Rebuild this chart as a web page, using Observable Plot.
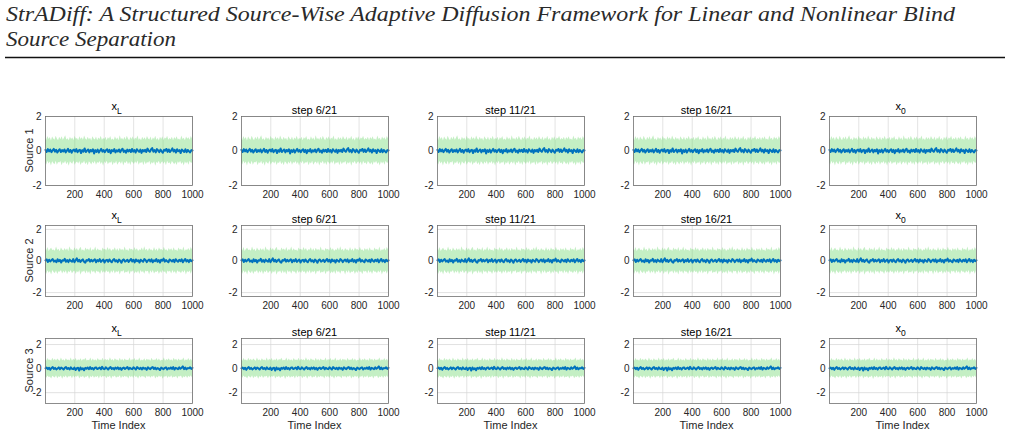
<!DOCTYPE html>
<html><head><meta charset="utf-8">
<script src="https://cdn.jsdelivr.net/npm/d3@7"></script>
<script src="https://cdn.jsdelivr.net/npm/@observablehq/plot@0.6"></script>
<style>
body{margin:0;background:#fff}
#root{position:relative;width:1010px;height:436px;overflow:hidden;background:#fff}
</style></head>
<body><div id="root"></div>
<script>
const headerLines = ["StrADiff: A Structured Source-Wise Adaptive Diffusion Framework for Linear and Nonlinear Blind", "Source Separation"];
const colTitleMain = ["x", "step 6/21", "step 11/21", "step 16/21", "x"];
const colTitleSub = ["L", "", "", "", "0"];
const rowLabels = ["Source 1", "Source 2", "Source 3"];
const xLabel = "Time Index";
const xTicks = [200, 400, 600, 800, 1000];
const yTicks = [-2, 0, 2];

// estimated mean trace per source (sampled along 1..1000)
const line1 = [0.06,-0.05,0.11,-0.02,0.08,-0.07,0.04,0.12,-0.04,0.07,-0.09,0.03,0.1,-0.06,0.05,-0.03,0.09,-0.08,0.02,0.13,-0.05,0.06,-0.1,0.04,0.08,-0.03,0.11,-0.07,0.03,0.07,-0.12,0.05,-0.04,0.15,-0.06,0.02,0.09,-0.08,0.06,-0.02,0.1,-0.14,0.05,-0.05,0.08,-0.09,0.03,0.12,-0.04,0.06,-0.07,0.04,0.1,-0.06,0.07,-0.13,0.05,-0.02,0.11,-0.08,0.04,-0.03,0.09,-0.07,0.06,0.13,-0.05,0.03,-0.1,0.08,-0.02,0.07,-0.06,0.12,-0.04,0.05,-0.09,0.1,0.02,-0.05,0.08,-0.11,0.06,-0.03,0.07,-0.06,0.14,0.01,-0.05,0.09,0.17,-0.04,0.06,-0.08,0.11,0.03,-0.07,0.08,-0.02,-0.1,0.07,0.02,0.12,-0.05,0.09,-0.06,0.04,0.15,-0.03,0.07,-0.09,0.1,-0.01,0.05,-0.12,0.08,0.02,-0.06,0.1,-0.07,0.06,-0.02,-0.08,0.05,0.03];
const line2 = [0.04,0.1,-0.06,0.08,-0.03,0.06,0.12,-0.04,0.03,-0.08,0.11,-0.02,0.07,-0.1,0.05,0.02,0.14,-0.05,0.06,-0.07,0.09,0.01,-0.04,0.12,-0.08,0.05,0.17,-0.03,0.08,-0.06,0.04,0.1,-0.05,-0.11,0.06,0.02,0.13,-0.04,0.07,-0.03,0.05,0.11,-0.08,0.06,-0.02,0.12,-0.06,0.03,0.09,-0.1,0.04,0.07,-0.05,0.1,-0.01,-0.08,0.06,0.12,-0.03,0.05,-0.07,0.09,0.02,-0.11,0.06,0.1,-0.04,0.01,0.08,-0.06,0.04,0.13,-0.03,0.07,-0.09,0.1,-0.01,0.05,-0.1,0.08,0.02,-0.05,0.12,0.06,-0.07,0.03,0.09,-0.03,0.1,-0.08,0.05,-0.01,0.12,-0.05,0.06,-0.1,0.08,0.02,0.15,-0.04,0.06,-0.02,-0.08,0.1,0.04,-0.03,0.08,-0.07,0.11,0.02,-0.05,0.07,-0.01,0.1,-0.08,0.04,0.13,-0.03,0.06,-0.07,0.08,-0.01,0.04];
const line3 = [0.02,0.08,-0.05,0.07,-0.1,0.05,0.12,-0.03,0.06,-0.07,0.01,0.1,-0.05,0.08,0.02,-0.08,0.06,0.13,-0.03,0.05,-0.07,0.1,-0.01,-0.05,0.08,-0.12,0.04,0.07,-0.16,0.09,-0.06,0.03,-0.14,0.06,-0.01,0.09,-0.05,0.12,-0.03,0.05,-0.08,0.07,0.1,-0.04,0.02,0.09,-0.06,0.15,-0.01,-0.05,0.1,0.02,-0.08,0.06,0.12,-0.03,0.05,-0.07,0.08,-0.01,0.1,-0.05,0.06,-0.1,0.03,0.08,-0.03,0.05,0.13,-0.06,0.07,-0.01,-0.05,0.1,0.02,-0.08,0.12,0.04,-0.03,0.07,-0.07,0.08,-0.01,0.04,-0.1,0.1,0.02,-0.05,0.07,0.12,-0.03,0.08,-0.06,0.04,-0.01,-0.12,0.08,0.02,-0.05,0.06,0.1,-0.07,0.04,-0.01,0.09,-0.03,0.12,-0.08,0.06,0.02,-0.05,0.1,-0.01,0.07,0.18,-0.05,0.08,-0.06,0.04,0.02,0.1,-0.03,0.06];

// estimated upper / lower edges of the shaded spread
const hi1 = [0.72,0.61,0.84,0.66,0.78,0.58,0.81,0.69,0.63,0.86,0.7,0.6,0.79,0.65,0.83,0.62,0.74,0.88,0.64,0.71,0.59,0.8,0.67,0.76,0.61,0.85,0.68,0.73,0.6,0.82,0.66,0.77,0.63,0.87,0.7,0.62,0.79,0.65,0.74,0.58,0.83,0.69,0.64,0.81,0.6,0.75,0.67,0.86,0.62,0.72,0.66,0.8,0.59,0.77,0.68,0.84,0.63,0.7,0.61,0.82,0.65,0.76,0.6,0.89,0.67,0.73,0.62,0.79,0.64,0.85,0.69,0.6,0.78,0.66,0.83,0.61,0.74,0.68,0.87,0.63,0.71,0.59,0.8,0.65,0.77,0.62,0.84,0.7,0.64,0.81,0.6,0.75,0.67,0.86,0.63,0.72,0.58,0.79,0.66,0.82,0.61,0.76,0.69,0.85,0.62,0.73,0.65,0.8,0.6,0.78,0.67,0.83,0.64,0.7,0.61,0.87,0.66,0.74,0.59,0.81,0.68,0.77,0.63,0.84,0.7];
const lo1 = [-0.68,-0.81,-0.6,-0.75,-0.64,-0.87,-0.62,-0.72,-0.79,-0.59,-0.83,-0.66,-0.7,-0.61,-0.85,-0.67,-0.74,-0.6,-0.8,-0.65,-0.88,-0.63,-0.71,-0.77,-0.58,-0.82,-0.69,-0.64,-0.76,-0.61,-0.84,-0.68,-0.73,-0.6,-0.79,-0.66,-0.86,-0.62,-0.7,-0.81,-0.64,-0.75,-0.59,-0.83,-0.67,-0.72,-0.61,-0.78,-0.65,-0.89,-0.63,-0.74,-0.6,-0.8,-0.68,-0.71,-0.62,-0.85,-0.66,-0.76,-0.59,-0.82,-0.69,-0.64,-0.77,-0.61,-0.87,-0.67,-0.73,-0.6,-0.8,-0.65,-0.84,-0.63,-0.7,-0.78,-0.62,-0.75,-0.58,-0.83,-0.68,-0.72,-0.64,-0.86,-0.61,-0.79,-0.66,-0.71,-0.6,-0.82,-0.67,-0.76,-0.63,-0.88,-0.65,-0.73,-0.59,-0.8,-0.69,-0.62,-0.77,-0.64,-0.85,-0.6,-0.74,-0.68,-0.81,-0.61,-0.7,-0.79,-0.66,-0.84,-0.63,-0.72,-0.59,-0.78,-0.67,-0.87,-0.62,-0.75,-0.64,-0.82,-0.6,-0.71,-0.69];
const hi2 = [0.78,0.64,0.86,0.6,0.73,0.81,0.66,0.7,0.62,0.88,0.67,0.75,0.59,0.83,0.69,0.63,0.8,0.65,0.77,0.61,0.9,0.68,0.72,0.6,0.84,0.66,0.79,0.62,0.74,0.87,0.64,0.71,0.6,0.82,0.68,0.76,0.63,0.85,0.61,0.73,0.67,0.89,0.62,0.78,0.65,0.7,0.6,0.83,0.69,0.74,0.63,0.86,0.66,0.79,0.61,0.72,0.68,0.84,0.62,0.77,0.6,0.81,0.67,0.73,0.64,0.88,0.65,0.71,0.6,0.8,0.69,0.75,0.62,0.85,0.66,0.78,0.61,0.72,0.67,0.83,0.63,0.9,0.65,0.74,0.6,0.79,0.68,0.7,0.62,0.86,0.64,0.76,0.61,0.82,0.69,0.73,0.63,0.87,0.66,0.71,0.6,0.8,0.67,0.77,0.62,0.84,0.65,0.7,0.61,0.83,0.68,0.75,0.64,0.88,0.6,0.72,0.66,0.79,0.63,0.85,0.69];
const lo2 = [-0.7,-0.84,-0.62,-0.77,-0.66,-0.89,-0.61,-0.73,-0.8,-0.64,-0.86,-0.68,-0.71,-0.6,-0.83,-0.65,-0.78,-0.62,-0.87,-0.67,-0.74,-0.6,-0.81,-0.69,-0.63,-0.85,-0.66,-0.76,-0.61,-0.9,-0.68,-0.72,-0.64,-0.82,-0.62,-0.79,-0.67,-0.88,-0.6,-0.75,-0.65,-0.84,-0.63,-0.71,-0.69,-0.86,-0.61,-0.77,-0.66,-0.8,-0.62,-0.73,-0.68,-0.85,-0.64,-0.78,-0.6,-0.82,-0.67,-0.74,-0.63,-0.89,-0.65,-0.71,-0.61,-0.81,-0.69,-0.76,-0.62,-0.87,-0.66,-0.72,-0.6,-0.83,-0.68,-0.79,-0.64,-0.86,-0.61,-0.75,-0.67,-0.84,-0.63,-0.7,-0.65,-0.88,-0.62,-0.77,-0.6,-0.82,-0.69,-0.73,-0.64,-0.85,-0.66,-0.8,-0.61,-0.74,-0.68,-0.87,-0.63,-0.71,-0.65,-0.83,-0.6,-0.78,-0.67,-0.86,-0.62,-0.72,-0.69,-0.81,-0.64,-0.76,-0.61,-0.89,-0.66,-0.74,-0.63,-0.84,-0.6,-0.79,-0.68,-0.7,-0.65];
const hi3 = [0.75,0.62,0.83,0.68,0.71,0.6,0.86,0.65,0.78,0.63,0.8,0.69,0.61,0.87,0.66,0.74,0.6,0.82,0.67,0.72,0.64,0.89,0.62,0.77,0.68,0.84,0.61,0.73,0.65,0.81,0.6,0.76,0.69,0.85,0.63,0.7,0.66,0.88,0.62,0.79,0.64,0.74,0.6,0.83,0.67,0.71,0.65,0.86,0.61,0.78,0.68,0.73,0.63,0.9,0.66,0.75,0.6,0.82,0.69,0.72,0.62,0.85,0.64,0.77,0.61,0.8,0.67,0.7,0.65,0.87,0.6,0.76,0.68,0.83,0.63,0.73,0.66,0.88,0.62,0.71,0.64,0.81,0.6,0.78,0.69,0.74,0.61,0.86,0.65,0.72,0.67,0.84,0.63,0.79,0.6,0.7,0.66,0.89,0.62,0.75,0.68,0.82,0.64,0.73,0.61,0.85,0.67,0.77,0.6,0.8,0.65,0.71,0.69,0.87,0.62,0.74,0.66,0.83,0.63,0.78,0.61];
const lo3 = [-0.66,-0.8,-0.61,-0.74,-0.69,-0.86,-0.63,-0.71,-0.78,-0.6,-0.84,-0.67,-0.73,-0.62,-0.88,-0.65,-0.76,-0.6,-0.82,-0.68,-0.7,-0.64,-0.85,-0.61,-0.79,-0.66,-0.72,-0.6,-0.87,-0.67,-0.75,-0.63,-0.83,-0.69,-0.71,-0.62,-0.9,-0.65,-0.77,-0.61,-0.81,-0.68,-0.73,-0.64,-0.86,-0.6,-0.78,-0.66,-0.7,-0.63,-0.84,-0.67,-0.75,-0.61,-0.89,-0.65,-0.72,-0.62,-0.8,-0.69,-0.74,-0.6,-0.85,-0.66,-0.77,-0.63,-0.71,-0.68,-0.87,-0.61,-0.76,-0.64,-0.82,-0.6,-0.73,-0.67,-0.88,-0.62,-0.79,-0.65,-0.7,-0.69,-0.84,-0.61,-0.75,-0.63,-0.81,-0.66,-0.72,-0.6,-0.86,-0.68,-0.78,-0.62,-0.74,-0.64,-0.89,-0.67,-0.71,-0.61,-0.83,-0.65,-0.76,-0.6,-0.8,-0.69,-0.73,-0.63,-0.87,-0.66,-0.7,-0.62,-0.85,-0.68,-0.77,-0.61,-0.82,-0.64,-0.75,-0.6,-0.79];

const yLimits = [[-2, 2], [-2.25, 2.25], [-2.9, 2.5]];

const lines = [line1, line2, line3];
const his = [hi1, hi2, hi3];
const los = [lo1, lo2, lo3];

// sample index positions along 1..1000
const idx = (i, n) => 1 + i * 999 / (n - 1);
const lineData = lines.map(a => a.map((v, i) => ({t: idx(i, a.length), v})));
const bandData = his.map((h, r) => {
  const lo = los[r], n = Math.min(h.length, lo.length);
  return d3.range(n).map(i => ({t: idx(i, n), hi: h[i], lo: lo[i]}));
});

const root = d3.select("#root");

// paper header
const serif = "'Liberation Serif', 'Times New Roman', Times, serif";
const hdr = root.append("svg").attr("width", 1010).attr("height", 62)
  .style("position", "absolute").style("left", "0px").style("top", "0px");
hdr.append("text").attr("x", 6).attr("y", 21).attr("textLength", 949).attr("lengthAdjust", "spacingAndGlyphs")
  .style("font-family", serif).style("font-style", "italic").style("font-weight", "normal")
  .attr("font-size", 21).attr("fill", "#2a2a2a").text(headerLines[0]);
hdr.append("text").attr("x", 6).attr("y", 46).attr("textLength", 170).attr("lengthAdjust", "spacingAndGlyphs")
  .style("font-family", serif).style("font-style", "italic").style("font-weight", "normal")
  .attr("font-size", 21).attr("fill", "#2a2a2a").text(headerLines[1]);
hdr.append("line").attr("x1", 5).attr("x2", 1005).attr("y1", 57.5).attr("y2", 57.5)
  .attr("stroke", "#111").attr("stroke-width", 1.3);

const colLeft = [45, 241, 437, 633, 829];
const plotW = 147;
const rowTop = [116, 225, 338];
const rowH = [69, 71, 65];
const ML = 40, MR = 12, MT = 20, MB = 34;
const font = "'Liberation Sans', Arial, Helvetica, sans-serif";

for (let r = 0; r < 3; r++) {
  for (let c = 0; c < 5; c++) {
    const h = rowH[r];
    const svg = Plot.plot({
      width: plotW + ML + MR,
      height: h + MT + MB,
      marginLeft: ML, marginRight: MR, marginTop: MT, marginBottom: MB,
      style: {background: "transparent", fontFamily: font, fontSize: "10px", color: "#262626"},
      x: {domain: [1, 1000], ticks: xTicks, tickSize: 0, tickPadding: 5, label: null, tickFormat: d => String(d)},
      y: {domain: yLimits[r], ticks: yTicks, tickSize: 0, tickPadding: 4, label: null, tickFormat: d => String(d)},
      marks: [
        Plot.gridX(xTicks, {stroke: "#d6d6d6", strokeOpacity: 1, strokeWidth: 0.7}),
        Plot.gridY(yTicks, {stroke: "#d6d6d6", strokeOpacity: 1, strokeWidth: 0.7}),
        Plot.areaY(bandData[r], {x: "t", y1: "lo", y2: "hi", fill: "#72d872", fillOpacity: 0.42}),
        Plot.line(lineData[r], {x: "t", y: "v", stroke: "#0072BD", strokeWidth: 2}),
        Plot.frame({stroke: "#707070", strokeWidth: 0.8})
      ]
    });
    svg.style.position = "absolute";
    svg.style.left = (colLeft[c] - ML) + "px";
    svg.style.top = (rowTop[r] - MT) + "px";
    svg.style.overflow = "visible";
    const s = d3.select(svg);
    // panel title
    const cx = ML + plotW / 2;
    if (colTitleSub[c]) {
      const t = s.append("text").attr("x", cx - 2).attr("y", MT - 6).attr("text-anchor", "middle")
        .attr("font-family", font).attr("font-size", 11).attr("fill", "#000");
      t.append("tspan").text(colTitleMain[c]);
      t.append("tspan").attr("dy", 4).attr("font-size", 8.5).text(colTitleSub[c]);
    } else {
      s.append("text").attr("x", cx).attr("y", MT - 2).attr("text-anchor", "middle")
        .attr("font-family", font).attr("font-size", 11).attr("fill", "#000").text(colTitleMain[c]);
    }
    if (c === 0) {
      s.append("text").attr("transform", `translate(${ML - 12},${MT + h / 2}) rotate(-90)`)
        .attr("text-anchor", "middle").attr("font-family", font).attr("font-size", 11)
        .attr("fill", "#262626").text(rowLabels[r]);
    }
    if (r === 2) {
      s.append("text").attr("x", cx).attr("y", MT + h + 26).attr("text-anchor", "middle")
        .attr("font-family", font).attr("font-size", 11).attr("fill", "#262626").text(xLabel);
    }
    root.node().appendChild(svg);
  }
}
</script>
</body></html>
